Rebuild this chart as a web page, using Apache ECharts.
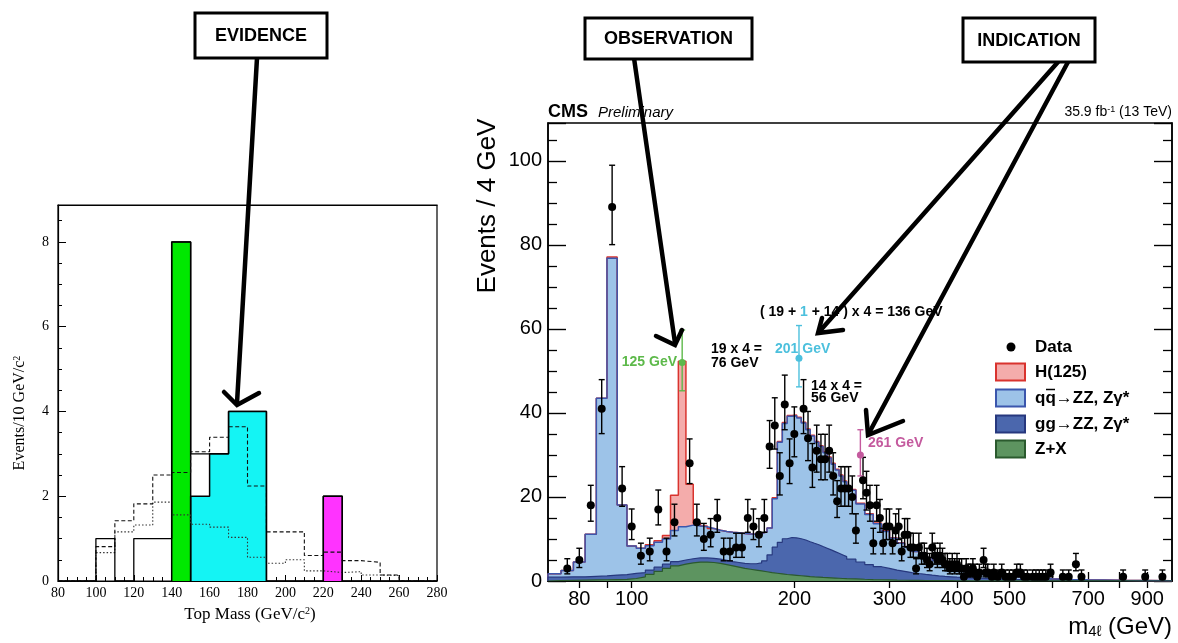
<!DOCTYPE html>
<html><head><meta charset="utf-8">
<script src="https://cdn.jsdelivr.net/npm/echarts@6/dist/echarts.min.js"></script>
<style>html,body{margin:0;padding:0;background:#fff}#c{width:1178px;height:643px}</style>
</head><body><div id="c"></div>
<script>
// ================= LEFT: Top mass histogram =================
const topEdges   = [80,90,100,110,120,130,140,150,160,170,180,190,200,210,220,230,240,250,260,270,280];
const solidVals  = [0,0,1,0,1,1,8,3,3,4,4,0,0,0,2,0,0,0,0,0];
const dashedVals = [0,0,0.81,1.42,1.82,2.5,2.56,3.05,3.39,3.64,2.24,1.16,1.16,0.6,0.68,0.48,0.44,0.14,0,0];
const dottedVals = [0,0,0.67,1.16,1.32,1.86,1.56,1.34,1.27,1.03,0.56,0.42,0.5,0.24,0.2,0.22,0.14,0.13,0,0];
const greenEdges = [140,150];           const greenVals = [8];
const cyanEdges  = [150,160,170,180,190]; const cyanVals = [2,3,4,4];
const magEdges   = [220,230];           const magVals = [2];
const topYTicks  = [0,2,4,6,8];

// ================= RIGHT: CMS m4l =================
const massLo = [70,74,78,82,86,90,94,98,102,106,110,114,118,122,126,130,134,138,142,146,
  150,154,158,162,166,170,174,178,182,186,190,194,198,202,206,210,214,218,222,226,230,234,238,242,246,
  250,260,270,280,290,300,310,320,330,340,350,360,370,380,390,
  400,425,450,475,500,550,600,650,700,800,900];
const massEnd = 1000;
// cumulative stack tops
const zxTop = [0.1,0.15,0.2,0.25,0.3,0.35,0.4,0.6,
  1.0,1.6,2.3,3.0,3.6,4.0,4.3,4.5,4.5,4.4,4.2,3.9,
  3.6,3.3,3.0,2.8,2.6,2.4,2.2,2.0,1.85,1.7,1.55,1.45,1.35,1.25,1.15,1.05,0.98,0.92,0.85,0.8,0.75,0.7,0.65,0.6,0.55,
  0.5,0.42,0.35,0.3,0.25,0.2,0.18,0.16,0.14,0.12,0.1,0.09,0.08,0.07,0.06,
  0.05,0.04,0.03,0.03,0.02,0.02,0.01,0.01,0.01,0,0];
const ggTop = [0.9,1.0,1.0,1.1,1.2,1.4,1.5,1.8,
  2.0,2.6,3.3,4.0,4.6,5.0,5.3,5.5,5.5,5.4,5.2,4.9,
  4.6,4.4,4.2,4.1,4.1,4.3,4.8,6.2,8.05,9.2,10.05,10.35,10.25,10.05,9.75,9.35,8.98,8.62,8.2,7.8,7.4,7.0,6.6,6.2,5.8,
  5.2,4.52,3.9,3.4,3.0,2.6,2.3,2.01,1.79,1.59,1.4,1.24,1.1,1.0,0.9,
  0.75,0.61,0.51,0.42,0.33,0.24,0.16,0.11,0.08,0.05,0.03];
const qqTop = [1.75,2.5,4.5,11.1,43.5,76.8,18.1,8.3,
  7.8,8.4,9.2,10.0,12.0,12.9,13.3,13.1,12.9,12.5,12.1,11.8,
  11.6,11.5,11.3,11.2,11.1,11.3,11.7,12.6,19.6,33.0,37.5,39.2,39.3,38.8,37.6,36.0,34.5,33.0,32.0,30.5,29.3,27.8,26.4,25.0,23.6,
  21.6,18.3,15.8,13.6,11.8,10.2,9.0,8.0,7.0,6.2,5.5,4.9,4.3,3.8,3.4,
  2.7,1.9,1.5,1.15,0.85,0.55,0.38,0.28,0.18,0.12,0.08];
const hTop = [1.75,2.5,4.5,11.1,43.5,77.1,18.1,8.3,
  7.8,8.6,9.6,10.8,20.4,52.3,23.0,13.7,13.1,12.5,12.1,11.8,
  11.6,11.5,11.3,11.2,11.1,11.3,11.7,12.6,19.8,33.2,37.7,39.4,39.5,39.0,37.8,36.2,34.7,33.2,32.2,30.7,29.5,28.0,26.6,25.2,23.8,
  21.8,18.5,16.0,13.8,12.0,10.3,9.1,8.1,7.05,6.25,5.55,4.95,4.35,3.85,3.45,
  2.7,1.9,1.5,1.15,0.85,0.55,0.38,0.28,0.18,0.12,0.08];

const dataMass = [76,80,84,88,92,96,100,104,108,112,116,120,128,132,136,140,144,148,152,156,160,164,168,172,176,
  180,184,188,192,196,200,208,212,216,220,224,228,232,236,240,244,248,252,256,260,268,272,276,280,284,288,292,296,300,
  304,308,312,316,320,324,328,332,336,340,344,348,352,356,360,364,368,372,376,380,384,388,392,396,400,404,408,412,416,
  420,424,428,432,436,440,448,452,456,464,468,476,484,492,500,508,516,524,532,540,552,560,568,576,584,596,628,644,664,680,812,892,960];
const dataCount = [3,5,18,41,89,22,13,6,7,17,7,14,28,14,10,11,15,7,7,8,8,15,13,11,15,
  32,37,25,42,28,35,41,34,27,31,29,29,31,25,19,22,22,22,20,12,24,21,18,9,18,15,9,13,13,
  9,12,13,7,11,11,8,8,3,8,6,6,5,4,8,6,5,6,5,4,4,3,4,3,4,3,3,1,3,
  2,2,3,2,1,2,5,2,2,1,2,1,2,1,1,1,2,2,1,1,1,1,1,1,1,2,1,1,4,1,1,1,1];
const hlMass  = [124, 204, 265];
const hlCount = [52, 53, 30];
const hlColors = ['#5db94a', '#4cc0dd', '#c45a9e'];
const cmsXLabels = [80,100,200,300,400,500,700,900];
const cmsXTicks  = [80,90,100,200,300,400,500,600,700,800,900];

// ---------- helpers ----------
function stepPts(edges, vals) {
  const p = [[edges[0], 0]];
  for (let i = 0; i < vals.length; i++) { p.push([edges[i], vals[i]]); p.push([edges[i+1], vals[i]]); }
  p.push([edges[edges.length-1], 0]);
  return p;
}
const cmsEdges = massLo.concat([massEnd]);
function errs(m, n) {
  return m.map((x, i) => { const s = Math.sqrt(n[i] + 0.25); return [x, n[i] - (s - 0.5), n[i] + s + 0.5]; });
}
const SANS = "'Liberation Sans', Arial, Helvetica, sans-serif";
const SERIF = "'Liberation Serif', 'Times New Roman', serif";

function errRender(colors) {
  return function(params, api) {
    const x = api.value(0), lo = api.value(1), hi = api.value(2);
    const p1 = api.coord([x, lo]), p2 = api.coord([x, hi]);
    const c = 3;
    const col = colors ? colors[params.dataIndex] : '#000';
    const st = {stroke: col, lineWidth: 1.4};
    return {type: 'group', children: [
      {type: 'line', shape: {x1: p1[0], y1: p1[1], x2: p2[0], y2: p2[1]}, style: st},
      {type: 'line', shape: {x1: p1[0]-c, y1: p1[1], x2: p1[0]+c, y2: p1[1]}, style: st},
      {type: 'line', shape: {x1: p2[0]-c, y1: p2[1], x2: p2[0]+c, y2: p2[1]}, style: st}
    ]};
  };
}

function areaLine(name, pts, fill, stroke, xi, yi, lw) {
  return {type: 'line', name, xAxisIndex: xi, yAxisIndex: yi, data: pts, showSymbol: false, symbol: 'none',
    animation: false, silent: true, lineStyle: {color: stroke, width: lw || 1.5},
    areaStyle: fill ? {color: fill, opacity: 1} : undefined};
}

const series = [
  // left chart
  areaLine('green', stepPts(greenEdges, greenVals), '#00e800', '#000', 0, 0, 1.5),
  areaLine('cyan', stepPts(cyanEdges, cyanVals), '#14f4f4', '#000', 0, 0, 1.5),
  areaLine('magenta', stepPts(magEdges, magVals), '#ff33ff', '#000', 0, 0, 1.5),
  {type: 'line', xAxisIndex: 0, yAxisIndex: 0, data: stepPts(topEdges, dottedVals), showSymbol: false, symbol: 'none',
    animation: false, lineStyle: {color: '#333', width: 1.1, type: [1.5, 2]}},
  {type: 'line', xAxisIndex: 0, yAxisIndex: 0, data: stepPts(topEdges, dashedVals), showSymbol: false, symbol: 'none',
    animation: false, lineStyle: {color: '#111', width: 1.1, type: [4, 2.5]}},
  {type: 'line', xAxisIndex: 0, yAxisIndex: 0, data: stepPts(topEdges, solidVals), showSymbol: false, symbol: 'none',
    animation: false, lineStyle: {color: '#000', width: 1.3}},
  // CMS stack
  areaLine('H(125)', stepPts(cmsEdges, hTop), '#f4acab', '#d9332e', 2, 1, 1.5),
  areaLine('qq', stepPts(cmsEdges, qqTop), '#9dc3e8', '#3b56ad', 2, 1, 1.5),
  areaLine('gg', stepPts(cmsEdges, ggTop), '#4b67ad', '#27387e', 2, 1, 1.2),
  areaLine('Z+X', stepPts(cmsEdges, zxTop), '#5d9460', '#2b5a2e', 2, 1, 1.2),
  // data
  {type: 'custom', xAxisIndex: 2, yAxisIndex: 1, renderItem: errRender(null), data: errs(dataMass, dataCount),
    encode: {x: 0, y: [1, 2]}, animation: false, clip: false, z: 5},
  {type: 'scatter', xAxisIndex: 2, yAxisIndex: 1, data: dataMass.map((m, i) => [m, dataCount[i]]),
    symbolSize: 8, itemStyle: {color: '#000', opacity: 1}, animation: false, z: 6},
  {type: 'custom', xAxisIndex: 2, yAxisIndex: 1, renderItem: errRender(hlColors), data: errs(hlMass, hlCount),
    encode: {x: 0, y: [1, 2]}, animation: false, clip: false, z: 5},
  {type: 'scatter', xAxisIndex: 2, yAxisIndex: 1, data: hlMass.map((m, i) => ({value: [m, hlCount[i]], itemStyle: {color: hlColors[i], opacity: 1}})),
    symbolSize: 7, animation: false, z: 6}
];

const blackLine = {show: true, lineStyle: {color: '#000', width: 1.2}};
const cmsLine = {show: true, lineStyle: {color: '#000', width: 1.5}};

function txt(x, y, text, o) {
  o = o || {};
  return {type: 'text', x, y, z: o.z || 50, rotation: o.rot || 0,
    style: {text, fontFamily: o.ff || SANS, fontSize: o.fs || 14, fontWeight: o.fw || 'normal',
      fontStyle: o.fst || 'normal', fill: o.color || '#000',
      align: o.align || 'left', verticalAlign: o.va || 'middle', rich: o.rich}};
}
function arrow(line, head) {
  return [
    {type: 'polyline', z: 90, shape: {points: line}, style: {stroke: '#000', lineWidth: 4.5, lineCap: 'round', fill: null}},
    {type: 'polyline', z: 90, shape: {points: head}, style: {stroke: '#000', lineWidth: 4.5, lineCap: 'round', lineJoin: 'miter', fill: null}}
  ];
}
function box(x, y, w, h, label) {
  return [
    {type: 'rect', z: 95, shape: {x, y, width: w, height: h}, style: {fill: '#fff', stroke: '#000', lineWidth: 3}},
    txt(x + w / 2, y + h / 2 + 1, label, {fs: 18, fw: 'bold', align: 'center', z: 96})
  ];
}
const legendItems = [
  {y: 372, label: 'H(125)', fill: '#f4acab', stroke: '#d9332e'},
  {y: 398, label: 'qq\u2192ZZ, Z\u03b3*', fill: '#9dc3e8', stroke: '#3b56ad', bar: true},
  {y: 424, label: 'gg\u2192ZZ, Z\u03b3*', fill: '#4b67ad', stroke: '#27387e'},
  {y: 449, label: 'Z+X', fill: '#5d9460', stroke: '#2b5a2e'}
];

const graphics = [].concat(
  // left titles
  [txt(20, 413, 'Events/10 GeV/c{sup|2}', {ff: SERIF, fs: 16, align: 'center', rot: Math.PI / 2,
      rich: {sup: {fontSize: 10, fontFamily: SERIF, verticalAlign: 'top'}}}),
   txt(250, 615, 'Top Mass (GeV/c{sup|2})', {ff: SERIF, fs: 17, align: 'center',
      rich: {sup: {fontSize: 10, fontFamily: SERIF, verticalAlign: 'top'}}})],
  // CMS header & titles
  [txt(548, 112, 'CMS', {fs: 18, fw: 'bold'}),
   txt(598, 113, 'Preliminary', {fs: 15, fst: 'italic'}),
   txt(1172, 112, '35.9 fb{sup|-1} (13 TeV)', {fs: 14, align: 'right', rich: {sup: {fontSize: 9, verticalAlign: 'top'}}}),
   txt(488, 206, 'Events / 4 GeV', {fs: 26, align: 'center', rot: Math.PI / 2}),
   txt(1172, 627, 'm{sub|4\u2113} (GeV)', {fs: 24, align: 'right', rich: {sub: {fontSize: 15, verticalAlign: 'bottom'}}})],
  // CMS annotations
  [txt(677, 362, '125 GeV', {fs: 14, fw: 'bold', color: hlColors[0], align: 'right'}),
   txt(711, 349, '19 x 4 =', {fs: 14, fw: 'bold'}),
   txt(711, 363, '76 GeV', {fs: 14, fw: 'bold'}),
   txt(760, 312, '( 19 + {c|1} + 14 ) x 4 = 136 GeV', {fs: 14, fw: 'bold',
      rich: {c: {fontSize: 14, fontWeight: 'bold', fontFamily: SANS, fill: hlColors[1]}}}),
   txt(775, 349, '201 GeV', {fs: 14, fw: 'bold', color: hlColors[1]}),
   txt(811, 386, '14 x 4 =', {fs: 14, fw: 'bold'}),
   txt(811, 398, '56 GeV', {fs: 14, fw: 'bold'}),
   txt(868, 443, '261 GeV', {fs: 14, fw: 'bold', color: hlColors[2]})],
  // legend
  [{type: 'circle', z: 50, shape: {cx: 1011, cy: 347, r: 4.5}, style: {fill: '#000'}},
   txt(1035, 347, 'Data', {fs: 17, fw: 'bold'}),
   // overline on the second q of q-qbar
   {type: 'line', z: 51, shape: {x1: 1046, y1: 389.5, x2: 1055, y2: 389.5}, style: {stroke: '#000', lineWidth: 1.5}}],
  ...legendItems.map(it => [
    {type: 'rect', z: 50, shape: {x: 996, y: it.y - 8.5, width: 29, height: 17}, style: {fill: it.fill, stroke: it.stroke, lineWidth: 2}},
    txt(1035, it.y, it.label, {fs: 17, fw: 'bold'})
  ]),
  // annotation arrows & boxes
  arrow([[257, 58], [237, 403]], [[224, 392], [237, 405], [259, 393]]),
  arrow([[634, 58], [675, 343]], [[656, 336], [675, 345], [682, 330]]),
  arrow([[1058, 62], [819, 332]], [[822, 318], [818, 333], [843, 330]]),
  arrow([[1068, 62], [869, 433]], [[866, 410], [868, 435], [903, 421]]),
  box(195, 13, 132, 45, 'EVIDENCE'),
  box(585, 18, 167, 41, 'OBSERVATION'),
  box(963, 18, 132, 44, 'INDICATION')
);

const option = {
  backgroundColor: '#fff',
  animation: false,
  grid: [
    {left: 58, top: 205, width: 379, height: 376, show: true, borderColor: '#000', borderWidth: 1.2, backgroundColor: 'transparent'},
    {left: 548, top: 123, width: 624, height: 458, show: true, borderColor: '#000', borderWidth: 1.5, backgroundColor: 'transparent'}
  ],
  xAxis: [
    {gridIndex: 0, type: 'value', min: 80, max: 280, interval: 20, axisLine: blackLine,
      axisTick: {inside: true, length: 6, lineStyle: {color: '#000'}},
      minorTick: {show: true, splitNumber: 4, length: 4, lineStyle: {color: '#000'}},
      axisLabel: {fontFamily: SERIF, fontSize: 14, color: '#000', margin: 5}, splitLine: {show: false}},
    {gridIndex: 0, type: 'value', position: 'top', min: 80, max: 280, interval: 20, axisLine: blackLine,
      axisTick: {show: false}, axisLabel: {show: false}, splitLine: {show: false}},
    {gridIndex: 1, type: 'log', logBase: 10, min: 70, max: 1000, axisLine: cmsLine,
      axisTick: {inside: true, length: 9, customValues: cmsXTicks, lineStyle: {color: '#000', width: 1.3}},
      axisLabel: {fontFamily: SANS, fontSize: 20, color: '#000', margin: 8, customValues: cmsXLabels},
      minorTick: {show: false}, splitLine: {show: false}},
    {gridIndex: 1, type: 'log', logBase: 10, min: 70, max: 1000, position: 'top', axisLine: cmsLine,
      axisTick: {inside: true, length: 7, customValues: cmsXTicks, lineStyle: {color: '#000', width: 1.3}},
      axisLabel: {show: false}, minorTick: {show: false}, splitLine: {show: false}}
  ],
  yAxis: [
    {gridIndex: 0, type: 'value', min: 0, max: 8.87, interval: 2, axisLine: blackLine,
      axisTick: {inside: true, length: 8, lineStyle: {color: '#000'}},
      minorTick: {show: true, splitNumber: 4, length: 4, lineStyle: {color: '#000'}},
      axisLabel: {fontFamily: SERIF, fontSize: 14, color: '#000', margin: 9, customValues: topYTicks},
      splitLine: {show: false}},
    {gridIndex: 1, type: 'value', min: 0, max: 109, interval: 20, axisLine: cmsLine,
      axisTick: {inside: true, length: 18, lineStyle: {color: '#000', width: 1.4}},
      minorTick: {show: true, splitNumber: 4, length: 9, lineStyle: {color: '#000', width: 1.3}},
      axisLabel: {fontFamily: SANS, fontSize: 20, color: '#000', margin: 6, showMaxLabel: false},
      splitLine: {show: false}},
    {gridIndex: 1, type: 'value', position: 'right', min: 0, max: 109, interval: 20, axisLine: cmsLine,
      axisTick: {inside: true, length: 18, lineStyle: {color: '#000', width: 1.4}},
      minorTick: {show: true, splitNumber: 4, length: 9, lineStyle: {color: '#000', width: 1.3}},
      axisLabel: {show: false}, splitLine: {show: false}}
  ],
  series: series,
  graphic: {elements: graphics}
};
const chart = echarts.init(document.getElementById('c'));
chart.setOption(option);
</script>
</body></html>
